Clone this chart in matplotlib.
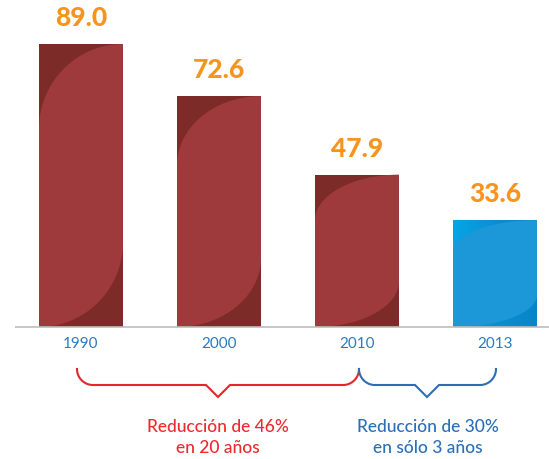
import numpy as np
import matplotlib
matplotlib.use("Agg")
import matplotlib.pyplot as plt
from matplotlib.patches import Polygon, Rectangle
from matplotlib.colors import LinearSegmentedColormap

# ---- data ----
years = ["1990", "2000", "2010", "2013"]
values = [89.0, 72.6, 47.9, 33.6]
value_labels = ["89.0", "72.6", "47.9", "33.6"]
note_red = ["Reducción de 46%", "en 20 años"]
note_blue = ["Reducción de 30%", "en sólo 3 años"]

W, H = 549, 460
fig = plt.figure(figsize=(W / 100, H / 100), dpi=100)
ax = fig.add_axes([0, 0, 1, 1])

# pixel -> data helpers (layout only)
X0, DX = 81.0, 138.0
Y0, DY = 328.0, 3.18
def X(px):
    return (px - X0) / DX
def Y(py):
    return (Y0 - py) / DY

ax.set_xlim(X(0), X(W))
ax.set_ylim(Y(H), Y(0))
ax.axis("off")

bar_w = 84 / DX
red_dark, red_light = "#7C2B28", "#9E3A3C"
blue_light = "#1C98D8"

t = np.linspace(0, np.pi / 2, 60)

for i, v in enumerate(values):
    L, R = i - bar_w / 2, i + bar_w / 2
    B, T = 0.0, v
    a = 0.30 * v
    w = R - L
    is_blue = (i == len(values) - 1)
    if is_blue:
        cmap = LinearSegmentedColormap.from_list("bg", ["#05A6E6", "#0A8FD3", "#0885CA"])
        grad = np.linspace(0, 1, 256).reshape(1, -1)
        im = ax.imshow(grad, extent=[L, R, B, T], cmap=cmap, aspect="auto", zorder=2)
        clip = Rectangle((L, B), w, T - B, transform=ax.transData)
        im.set_clip_path(clip)
        leaf_col = blue_light
    else:
        ax.add_patch(Rectangle((L, B), w, T - B, facecolor=red_dark, edgecolor="none", zorder=2))
        leaf_col = red_light
    upper_x = R - w * np.cos(t)
    upper_y = T - a + a * np.sin(t)
    lower_x = L + w * np.cos(t)
    lower_y = B + a - a * np.sin(t)
    xs = np.concatenate([[L], upper_x, lower_x])
    ys = np.concatenate([[B], upper_y, lower_y])
    ax.add_patch(Polygon(np.column_stack([xs, ys]), closed=True, facecolor=leaf_col,
                         edgecolor="none", zorder=3))
    ax.text(i, v + 19 / DY, value_labels[i], ha="center", va="baseline",
            fontsize=19, fontweight="black", color="#F7941E", family="Lato", zorder=5)
    ax.text(i, Y(348), years[i], ha="center", va="baseline", fontsize=11,
            color="#2B7BBF", family="Lato", zorder=5)

ax.plot([X(15), X(W)], [0, 0], color="#BDBDBD", lw=1.2, zorder=4, solid_capstyle="butt")

def bracket(x1, x2, xc, color):
    mid, bot, r, nh = 386, 398, 16, 12
    pts = []
    th = np.linspace(np.pi, 1.5 * np.pi, 30)
    for a in th:
        pts.append((x1 + r + r * np.cos(a), mid - r - r * np.sin(a)))
    pts += [(xc - nh, mid), (xc, bot), (xc + nh, mid)]
    th2 = np.linspace(1.5 * np.pi, 2 * np.pi, 30)
    for a in th2:
        pts.append((x2 - r + r * np.cos(a), mid - r - r * np.sin(a)))
    pts = np.array(pts)
    ax.plot(X(pts[:, 0]), Y(pts[:, 1]), color=color, lw=1.5, zorder=4,
            solid_joinstyle="miter")

bracket(77, 359, 218, "#E8242B")
bracket(359, 496, 427, "#2D6DB5")

for k, line in enumerate(note_red):
    ax.text(X(218), Y(432 + 21 * k), line, ha="center", va="baseline", fontsize=12.5,
            color="#EE2A2E", family="Lato", fontweight="medium")
for k, line in enumerate(note_blue):
    ax.text(X(428), Y(432 + 21 * k), line, ha="center", va="baseline", fontsize=12.5,
            color="#2A6FB7", family="Lato", fontweight="medium")

fig.savefig("out.png", dpi=100)
